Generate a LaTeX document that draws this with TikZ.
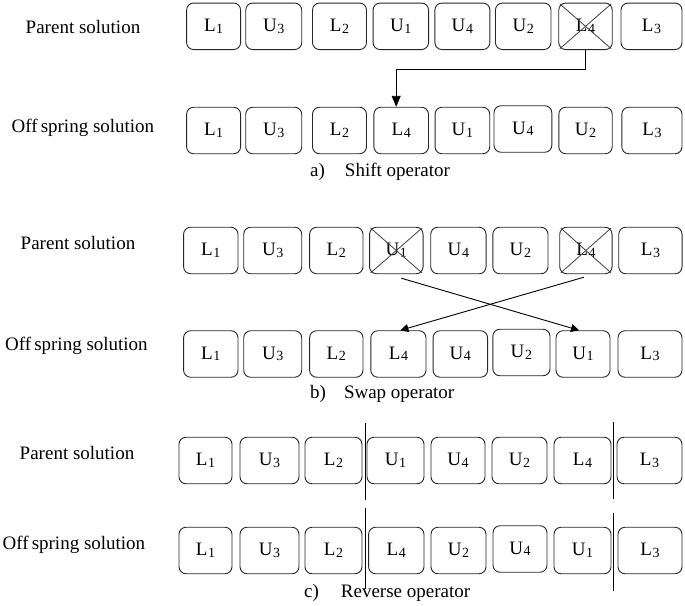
\documentclass[tikz,border=0pt]{standalone}
\usepackage{fontspec}
\setmainfont{Liberation Serif}
\usetikzlibrary{arrows.meta}
\newcommand{\glab}[2]{#1\kern0.6pt\raisebox{-1.5pt}{\fontsize{14}{14}\selectfont #2}}
\tikzset{
  gene/.style={draw=black!85, line width=0.9pt, rounded corners=7pt, minimum height=46.5pt, inner sep=0pt, font=\fontsize{19}{22}\selectfont},
  rowlabel/.style={font=\fontsize{19}{22}\selectfont, inner sep=0pt},
  caption/.style={font=\fontsize{19}{22}\selectfont, inner sep=0pt},
  crossline/.style={draw=black!75, line width=0.8pt, shorten <=2pt, shorten >=2pt},
  arrA/.style={draw=black, line width=0.9pt, -{Triangle[length=11pt,width=9pt]}},
  arrB/.style={draw=black, line width=0.9pt, -{Triangle[length=8pt,width=8pt]}},
  sep/.style={draw=black, line width=0.9pt}
}
\begin{document}
\begin{tikzpicture}[x=1pt,y=-1pt]
\useasboundingbox (0,0) rectangle (685,605);

% ---------- a) Shift operator ----------
\node[rowlabel] (la1) at (83,27) {Parent solution};
\node[gene, minimum width=54pt] (pa1) at (213.6,26.3) {\glab{L}{1}};
\node[gene, minimum width=56pt] (pa2) at (273.7,26.3) {\glab{U}{3}};
\node[gene, minimum width=54pt] (pa3) at (339.5,26.3) {\glab{L}{2}};
\node[gene, minimum width=55.5pt] (pa4) at (400.8,26.3) {\glab{U}{1}};
\node[gene, minimum width=55pt] (pa5) at (462.4,26.3) {\glab{U}{4}};
\node[gene, minimum width=55.5pt] (pa6) at (523.2,26.3) {\glab{U}{2}};
\node[gene, minimum width=53.5pt] (pa7) at (585.5,26.3) {\glab{L}{4}};
\node[gene, minimum width=61pt] (pa8) at (651.5,26.3) {\glab{L}{3}};
\draw[crossline] (pa7.north west) -- (pa7.south east);
\draw[crossline] (pa7.north east) -- (pa7.south west);

\node[rowlabel] (la2) at (83,128) {Off\kern3pt spring solution};
\node[gene, minimum width=54pt] (oa1) at (213.6,130.5) {\glab{L}{1}};
\node[gene, minimum width=56pt] (oa2) at (273.7,130.5) {\glab{U}{3}};
\node[gene, minimum width=54pt] (oa3) at (339.5,130.5) {\glab{L}{2}};
\node[gene, minimum width=54.6pt] (oa4) at (401.2,130.5) {\glab{L}{4}};
\node[gene, minimum width=54.7pt] (oa5) at (462.4,130.5) {\glab{U}{1}};
\node[gene, minimum width=57.8pt] (oa6) at (522.9,129.0) {\glab{U}{4}};
\node[gene, minimum width=53.4pt] (oa7) at (585.5,130.5) {\glab{U}{2}};
\node[gene, minimum width=60.2pt] (oa8) at (651.9,130.5) {\glab{L}{3}};
\draw[arrA] (pa7.south) -- ++(0,19) -| ([xshift=-5pt]oa4.north);

\node[caption, anchor=west] (ca) at (310,172) {a)\hspace{20pt}Shift operator};

% ---------- b) Swap operator ----------
\node[rowlabel] (lb1) at (78,243) {Parent solution};
\node[gene, minimum width=54.4pt] (pb1) at (210.8,250.5) {\glab{L}{1}};
\node[gene, minimum width=58pt] (pb2) at (272.7,250.5) {\glab{U}{3}};
\node[gene, minimum width=53.4pt] (pb3) at (336.3,250.5) {\glab{L}{2}};
\node[gene, minimum width=53.5pt] (pb4) at (396.3,250.5) {\glab{U}{1}};
\node[gene, minimum width=55.3pt] (pb5) at (458.4,250.5) {\glab{U}{4}};
\node[gene, minimum width=55.2pt] (pb6) at (520.4,250.5) {\glab{U}{2}};
\node[gene, minimum width=52.3pt] (pb7) at (585.9,250.5) {\glab{L}{4}};
\node[gene, minimum width=63.3pt] (pb8) at (650.4,250.5) {\glab{L}{3}};
\draw[crossline] (pb4.north west) -- (pb4.south east);
\draw[crossline] (pb4.north east) -- (pb4.south west);
\draw[crossline] (pb7.north west) -- (pb7.south east);
\draw[crossline] (pb7.north east) -- (pb7.south west);

\node[rowlabel] (lb2) at (76.5,346) {Off\kern3pt spring solution};
\node[gene, minimum width=54.4pt] (ob1) at (210.8,354) {\glab{L}{1}};
\node[gene, minimum width=58pt] (ob2) at (272.7,354) {\glab{U}{3}};
\node[gene, minimum width=53.4pt] (ob3) at (336.3,354) {\glab{L}{2}};
\node[gene, minimum width=55.2pt] (ob4) at (398.4,354) {\glab{L}{4}};
\node[gene, minimum width=54.5pt] (ob5) at (460.3,354) {\glab{U}{4}};
\node[gene, minimum width=57.2pt] (ob6) at (521.4,352.5) {\glab{U}{2}};
\node[gene, minimum width=54pt] (ob7) at (583,354) {\glab{U}{1}};
\node[gene, minimum width=64pt] (ob8) at (650,354) {\glab{L}{3}};
\draw[arrB] ([xshift=5pt,yshift=-4pt]pb4.south) -- ([xshift=-4pt]ob7.north);
\draw[arrB] ([xshift=-2pt,yshift=-3pt]pb7.south) -- ([xshift=2pt]ob4.north);

\node[caption, anchor=west] (cb) at (310,394) {b)\hspace{18pt}Swap operator};

% ---------- c) Reverse operator ----------
\node[rowlabel] (lc1) at (77,453) {Parent solution};
\node[gene, minimum width=53pt] (pc1) at (205.5,460.5) {\glab{L}{1}};
\node[gene, minimum width=59pt] (pc2) at (269.5,460.5) {\glab{U}{3}};
\node[gene, minimum width=57pt] (pc3) at (333.5,460.5) {\glab{L}{2}};
\node[gene, minimum width=57pt] (pc4) at (395.5,460.5) {\glab{U}{1}};
\node[gene, minimum width=54pt] (pc5) at (458,460.5) {\glab{U}{4}};
\node[gene, minimum width=55pt] (pc6) at (519.5,460.5) {\glab{U}{2}};
\node[gene, minimum width=57pt] (pc7) at (582.5,460.5) {\glab{L}{4}};
\node[gene, minimum width=65pt] (pc8) at (649.5,460.5) {\glab{L}{3}};

\node[rowlabel] (lc2) at (74,545) {Off\kern3pt spring solution};
\node[gene, minimum width=53pt] (oc1) at (205.5,550.5) {\glab{L}{1}};
\node[gene, minimum width=59pt] (oc2) at (269.5,550.5) {\glab{U}{3}};
\node[gene, minimum width=57pt] (oc3) at (333.5,550.5) {\glab{L}{2}};
\node[gene, minimum width=55.4pt] (oc4) at (396.3,550.5) {\glab{L}{4}};
\node[gene, minimum width=55pt] (oc5) at (458.5,550.5) {\glab{U}{2}};
\node[gene, minimum width=54pt] (oc6) at (520,549) {\glab{U}{4}};
\node[gene, minimum width=57pt] (oc7) at (582.5,550.5) {\glab{U}{1}};
\node[gene, minimum width=64pt] (oc8) at (650,550.5) {\glab{L}{3}};

\coordinate (s1a) at (365,423);
\coordinate (s1b) at (365,500);
\coordinate (s2a) at (613,422);
\coordinate (s2b) at (613,499);
\coordinate (s3a) at (365,508);
\coordinate (s3b) at (365,589);
\coordinate (s4a) at (613,513);
\coordinate (s4b) at (613,591);
\draw[sep] (s1a) -- (s1b);
\draw[sep] (s2a) -- (s2b);
\draw[sep] (s3a) -- (s3b);
\draw[sep] (s4a) -- (s4b);

\node[caption, anchor=west] (cc) at (304,593) {c)\hspace{22pt}Reverse operator};
\end{tikzpicture}
\end{document}
